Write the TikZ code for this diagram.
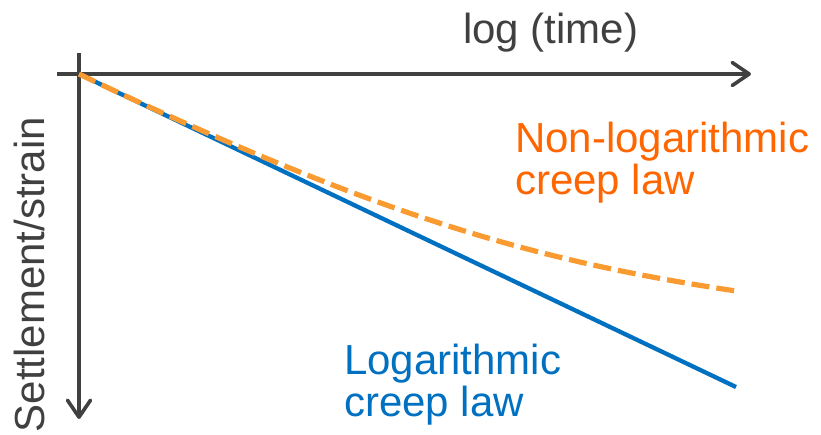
\documentclass[tikz,border=0pt]{standalone}
\usepackage{fontspec}
\setmainfont{Liberation Sans}
\usetikzlibrary{arrows.meta}
\definecolor{axisgray}{HTML}{404040}
\definecolor{logblue}{HTML}{0070C0}
\definecolor{curveorange}{HTML}{F99B31}
\definecolor{textorange}{HTML}{FF6600}
\tikzset{
  axis/.style={draw=axisgray, line width=3.6pt,
    -{Straight Barb[length=17pt, width=23pt, line cap=round, line join=round]}},
  loglaw/.style={draw=logblue, line width=4.3pt},
  nonloglaw/.style={draw=curveorange, line width=5.2pt, dash pattern=on 18pt off 7pt},
  label/.style={inner sep=0pt, font=\fontsize{42}{42}\selectfont},
}
\begin{document}
\begin{tikzpicture}[x=1pt, y=-1pt]
  \useasboundingbox (0,0) rectangle (821,434);

  % axes
  \coordinate (O) at (79,74);
  \coordinate (xstart) at (57,74);
  \coordinate (xend) at (751,74);
  \coordinate (ystart) at (79,53);
  \coordinate (yend) at (79,419);
  \draw[axis] (xstart) -- (xend);
  \draw[axis] (ystart) -- (yend);

  % creep laws
  \coordinate (logend) at (736,387);
  \coordinate (nonlogend) at (736,291);
  \draw[loglaw] (O) -- (logend);
  \draw[nonloglaw] (O) .. controls (379,217) and (536,261) .. (nonlogend);

  % labels (base anchor of a two-line node sits on its last line)
  \node[label, text=axisgray, anchor=base west] (tlabel) at (463,43) {log (time)};
  \node[label, text=axisgray, rotate=90, anchor=base east] (slabel) at (44,117) {Settlement/strain};
  \node[label, text=textorange, anchor=base west, align=left] (nonlog) at (515,194)
    {Non-logarithmic\\creep law};
  \node[label, text=logblue, anchor=base west, align=left] (log) at (344,416)
    {Logarithmic\\creep law};
\end{tikzpicture}
\end{document}
